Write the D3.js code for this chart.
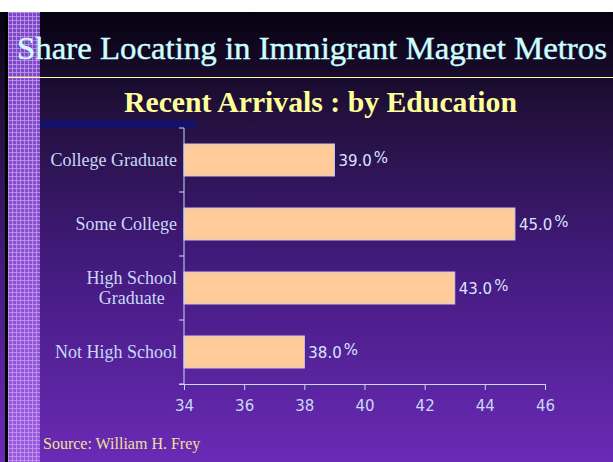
<!DOCTYPE html>
<html>
<head>
<meta charset="utf-8">
<script src="https://cdn.jsdelivr.net/npm/d3@7"></script>
<style>
  html, body { margin: 0; padding: 0; background: #fff; }
  svg { display: block; }
</style>
</head>
<body>
<div id="chart"></div>
<script>
// Data
const categories = ['College Graduate', 'Some College', 'High School\nGraduate', 'Not High School'];
const shares = [39.0, 45.0, 43.0, 38.0];
const xTicks = [34, 36, 38, 40, 42, 44, 46];

const title = 'Share  Locating in Immigrant Magnet Metros';
const subtitle = 'Recent Arrivals : by Education';
const source = 'Source: William H. Frey';

const W = 613, H = 462;
const margin = { top: 128, right: 68, bottom: 78, left: 184 };
const serif = '"Liberation Serif", "Times New Roman", serif';
const sans = '"DejaVu Sans", Verdana, sans-serif';

const svg = d3.select('#chart').append('svg')
  .attr('width', W)
  .attr('height', H);

const defs = svg.append('defs');

// slide background: black at top fading to purple
const bg = defs.append('linearGradient')
  .attr('id', 'bg')
  .attr('x1', 0).attr('y1', 0).attr('x2', 0).attr('y2', 1);
bg.append('stop').attr('offset', '0%').attr('stop-color', '#070210');
bg.append('stop').attr('offset', '22%').attr('stop-color', '#22103c');
bg.append('stop').attr('offset', '55%').attr('stop-color', '#421a7c');
bg.append('stop').attr('offset', '100%').attr('stop-color', '#6a2ab6');

// left decorative grid strip
const stripGrad = defs.append('linearGradient')
  .attr('id', 'stripGrad')
  .attr('x1', 0).attr('y1', 0).attr('x2', 0).attr('y2', 1);
stripGrad.append('stop').attr('offset', '0%').attr('stop-color', '#7c46c4');
stripGrad.append('stop').attr('offset', '100%').attr('stop-color', '#9a58e0');

const pat = defs.append('pattern')
  .attr('id', 'grid')
  .attr('width', 4).attr('height', 4)
  .attr('patternUnits', 'userSpaceOnUse');
pat.append('path')
  .attr('d', 'M0 0.5H4M0.5 0V4')
  .attr('stroke', '#c8a4f0')
  .attr('stroke-opacity', 0.7)
  .attr('stroke-width', 1);

svg.append('rect')
  .attr('x', 0).attr('y', 12)
  .attr('width', W).attr('height', H - 12)
  .attr('fill', 'url(#bg)');

svg.append('rect')
  .attr('x', 5).attr('y', 12)
  .attr('width', 3).attr('height', H - 12)
  .attr('fill', '#000');

svg.append('rect')
  .attr('x', 8).attr('y', 12)
  .attr('width', 32).attr('height', H - 12)
  .attr('fill', 'url(#stripGrad)');
svg.append('rect')
  .attr('x', 8).attr('y', 12)
  .attr('width', 32).attr('height', H - 12)
  .attr('fill', 'url(#grid)');

// dark blue bar under the subtitle
svg.append('rect')
  .attr('x', 40).attr('y', 120)
  .attr('width', 155).attr('height', 8)
  .attr('fill', '#12126a');

// titles
svg.append('text')
  .attr('x', 17).attr('y', 59)
  .attr('font-family', serif)
  .attr('font-size', 31)
  .attr('textLength', 590)
  .attr('lengthAdjust', 'spacingAndGlyphs')
  .attr('fill', '#ccffff')
  .attr('stroke', '#ccffff')
  .attr('stroke-width', 0.4)
  .text(title);

svg.append('line')
  .attr('x1', 8).attr('x2', W)
  .attr('y1', 77.5).attr('y2', 77.5)
  .attr('stroke', '#ffff99')
  .attr('stroke-width', 1);

svg.append('text')
  .attr('x', 124).attr('y', 112)
  .attr('font-family', serif)
  .attr('font-size', 29)
  .attr('font-weight', 'bold')
  .attr('textLength', 393)
  .attr('lengthAdjust', 'spacingAndGlyphs')
  .attr('fill', '#ffff99')
  .text(subtitle);

// scales
const x = d3.scaleLinear()
  .domain([34, 46])
  .range([margin.left, W - margin.right]);

const y = d3.scaleBand()
  .domain(categories)
  .range([margin.top, H - margin.bottom])
  .paddingInner(0.5)
  .paddingOuter(0.25);

const yEdges = d3.scaleBand()
  .domain(categories)
  .range([margin.top, H - margin.bottom]);

const axisColor = '#c8d8f8';

// bars
svg.selectAll('.bar')
  .data(categories)
  .enter()
  .append('rect')
  .attr('class', 'bar')
  .attr('x', x(34))
  .attr('y', d => y(d))
  .attr('width', (d, i) => x(shares[i]) - x(34))
  .attr('height', y.bandwidth())
  .attr('fill', '#ffcc99')
  .attr('stroke', '#c8c8f0')
  .attr('stroke-width', 1);

// value labels
const vl = svg.selectAll('.val')
  .data(categories)
  .enter()
  .append('text')
  .attr('class', 'val')
  .attr('x', (d, i) => x(shares[i]) + 4)
  .attr('y', d => y(d) + y.bandwidth() / 2 + 6)
  .attr('font-family', sans)
  .attr('font-size', 15)
  .attr('fill', '#d8e4ff');
vl.append('tspan').text((d, i) => shares[i].toFixed(1));
vl.append('tspan').attr('dx', 2).attr('dy', -3).text('%');

// x axis
const xAxis = svg.append('g')
  .attr('transform', `translate(0,${H - margin.bottom})`)
  .call(d3.axisBottom(x).tickValues(xTicks).tickSize(6).tickSizeOuter(0).tickPadding(10));
xAxis.select('.domain').attr('d', `M${x(34) - 5},0.5H${x(46)}`);
xAxis.selectAll('text')
  .attr('font-family', sans)
  .attr('font-size', 15)
  .attr('fill', axisColor);

// y axis: ticks sit between categories
const yTickPos = categories.map(d => yEdges(d)).concat([H - margin.bottom]);
const yAxis = svg.append('g');
yAxis.append('line')
  .attr('x1', margin.left).attr('x2', margin.left)
  .attr('y1', margin.top).attr('y2', H - margin.bottom)
  .attr('stroke', axisColor);
yAxis.selectAll('.ytick')
  .data(yTickPos)
  .enter()
  .append('line')
  .attr('x1', margin.left - 5).attr('x2', margin.left)
  .attr('y1', d => d).attr('y2', d => d)
  .attr('stroke', axisColor);
xAxis.selectAll('line, path').attr('stroke', axisColor);

// category labels (multi-line centred on each other, block right-aligned)
const labels = svg.selectAll('.cat')
  .data(categories)
  .enter()
  .append('text')
  .attr('class', 'cat')
  .attr('font-family', serif)
  .attr('font-size', 18)
  .attr('fill', '#c8d8f8')
  .attr('text-anchor', 'middle');

labels.each(function(d) {
  const t = d3.select(this);
  const lines = d.split('\n');
  const lh = 20;
  const cy = y(d) + y.bandwidth() / 2;
  lines.forEach((ln, i) => {
    t.append('tspan')
      .attr('y', cy + 6 + (i - (lines.length - 1) / 2) * lh)
      .text(ln);
  });
  let maxW = 0;
  t.selectAll('tspan').each(function() {
    maxW = Math.max(maxW, this.getComputedTextLength());
  });
  t.selectAll('tspan').attr('x', margin.left - 7 - maxW / 2);
});

// source note
svg.append('text')
  .attr('x', 43).attr('y', 449)
  .attr('font-family', serif)
  .attr('font-size', 16)
  .attr('fill', '#f0e098')
  .text(source);
</script>
</body>
</html>
